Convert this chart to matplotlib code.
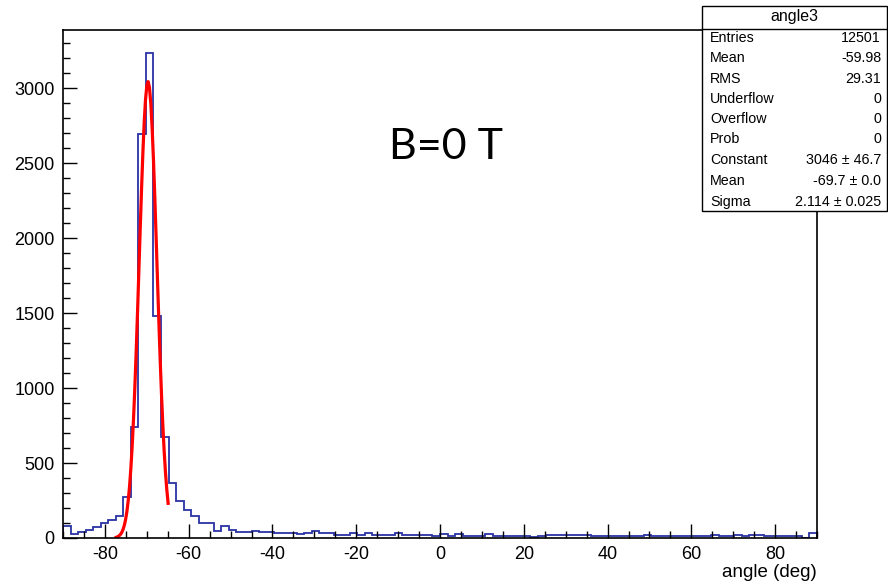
import numpy as np
import matplotlib
matplotlib.use("Agg")
import matplotlib.pyplot as plt
from matplotlib.ticker import MultipleLocator
from matplotlib.patches import Rectangle

# ---------------- data ----------------
x_min, x_max, n_bins = -90.0, 90.0, 100
counts = [80, 25, 42, 53, 75, 102, 120, 149, 276, 742,
          2698, 3236, 1480, 671, 369, 247, 187, 149, 102, 102,
          50, 78, 56, 43, 43, 45, 38, 40, 33, 33,
          33, 24, 33, 45, 33, 33, 22, 22, 33, 22,
          33, 22, 22, 22, 33, 22, 22, 22, 22, 12,
          24, 13, 24, 13, 13, 13, 24, 13, 13, 13,
          13, 13, 7, 13, 18, 18, 18, 18, 18, 18,
          13, 13, 13, 13, 13, 13, 13, 22, 11, 11,
          11, 11, 11, 11, 11, 11, 22, 11, 11, 22,
          11, 22, 22, 11, 11, 11, 11, 11, 2, 33]

fit_constant = 3046.0
fit_mean = -69.7
fit_sigma = 2.114
fit_range = (-77.3, -64.9)

x_ticks = [-80, -60, -40, -20, 0, 20, 40, 60, 80]
y_ticks = [0, 500, 1000, 1500, 2000, 2500, 3000]
y_max = 3390

stats_title = "angle3"
stats_labels = ["Entries", "Mean", "RMS", "Underflow", "Overflow", "Prob",
                "Constant", "Mean", "Sigma"]
stats_values = ["12501", "-59.98", "29.31", "0", "0", "0",
                "3046 \u00b1 46.7", "-69.7 \u00b1 0.0", "2.114 \u00b1 0.025"]

x_label = "angle (deg)"
annotation = "B=0 T"

# ---------------- figure ----------------
plt.rcParams['axes.unicode_minus'] = False
W, H = 888, 587
fig = plt.figure(figsize=(W / 100, H / 100), dpi=100)
ax = fig.add_axes([63 / W, 1 - 538 / H, (817 - 63) / W, (538 - 30) / H])

edges = np.linspace(x_min, x_max, n_bins + 1)
ax.stairs(counts, edges, color="#2a33a6", lw=1.3)

xf = np.linspace(fit_range[0], fit_range[1], 40)
yf = fit_constant * np.exp(-0.5 * ((xf - fit_mean) / fit_sigma) ** 2)
ax.plot(xf, yf, color="#ff0000", lw=2.3)

ax.set_xlim(x_min, x_max)
ax.set_ylim(0, y_max)
ax.set_xticks(x_ticks)
ax.set_yticks(y_ticks)
ax.xaxis.set_minor_locator(MultipleLocator(5))
ax.yaxis.set_minor_locator(MultipleLocator(100))
tick_font = dict(family="Liberation Sans", size=13)
ax.set_xticklabels([str(v) for v in x_ticks], **tick_font)
ax.set_yticklabels([str(v) for v in y_ticks], **tick_font)
ax.tick_params(axis="both", which="major", direction="in", length=10, width=1,
               color="black", top=False, right=False)
ax.tick_params(axis="both", which="minor", direction="in", length=5, width=1,
               color="black", top=False, right=False)
ax.tick_params(axis="x", which="major", pad=6)
ax.tick_params(axis="y", which="major", pad=6)
for s in ax.spines.values():
    s.set_linewidth(1.2)
    s.set_color("black")

ax.set_xlabel(x_label, loc="right", family="Liberation Sans", size=13.5)
ax.xaxis.set_label_coords(1.0, -(564 - 538) / (538 - 30))
ax.xaxis.label.set_va("top")

# annotation
fig.text(389 / W, 1 - 159 / H, annotation, family="Lato", size=31,
         ha="left", va="baseline")

# stats box
bx0, bx1, by0, by1 = 702, 887, 6, 211
fig.patches.append(Rectangle((bx0 / W, 1 - by1 / H), (bx1 - bx0) / W,
                             (by1 - by0) / H, transform=fig.transFigure,
                             facecolor="white", edgecolor="black", lw=1.0,
                             zorder=5))
fig.add_artist(plt.Line2D([bx0 / W, bx1 / W], [1 - 29 / H, 1 - 29 / H],
                          transform=fig.transFigure, color="black", lw=1.0,
                          zorder=6))
stat_font = dict(family="Liberation Sans", size=10.3, zorder=7)
fig.text((bx0 + bx1) / 2 / W, 1 - 17 / H, stats_title, ha="center",
         va="center", **dict(stat_font, size=11.5))
row_y = [38, 58, 79, 99, 119, 139, 160, 181, 202]
for lab, val, yy in zip(stats_labels, stats_values, row_y):
    fig.text(710 / W, 1 - yy / H, lab, ha="left", va="center", **stat_font)
    fig.text(881 / W, 1 - yy / H, val, ha="right", va="center", **stat_font)

fig.savefig("out.png", dpi=100)
